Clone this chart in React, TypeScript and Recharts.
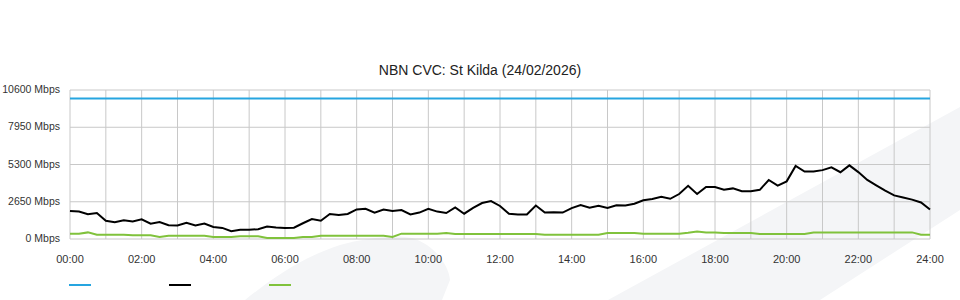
import React from "react";
import { LineChart, Line, XAxis, YAxis, CartesianGrid } from "recharts";

// 15-minute samples, 00:00 .. 24:00 (97 points), values in Mbps
const capacityMbps = 10000;

const trafficMbps = [
  2000, 1950, 1760, 1850, 1300, 1200, 1330, 1250, 1400, 1090, 1200, 980, 960, 1150, 960, 1100,
  850, 790, 560, 660, 660, 700, 880, 810, 780, 800, 1120, 1420, 1300, 1780, 1700, 1780,
  2100, 2150, 1880, 2100, 2000, 2060, 1750, 1880, 2150, 1950, 1850, 2250, 1800, 2220, 2560, 2700,
  2350, 1800, 1750, 1750, 2380, 1880, 1900, 1880, 2200, 2420, 2220, 2370, 2200, 2400, 2380, 2510,
  2750, 2850, 3000, 2860, 3200, 3780, 3200, 3700, 3700, 3500, 3600, 3400, 3390, 3500, 4200, 3800,
  4100, 5200, 4800, 4800, 4900, 5100, 4750, 5240, 4760, 4200, 3820, 3440, 3100, 2950, 2800, 2600,
  2100,
];

const otherMbps = [
  380, 380, 470, 300, 300, 300, 300, 260, 260, 260, 140, 235, 235, 235, 235, 235,
  140, 140, 140, 190, 190, 190, 70, 70, 70, 70, 140, 140, 235, 235, 235, 235,
  235, 235, 235, 235, 140, 380, 380, 380, 380, 380, 420, 355, 355, 355, 355, 355,
  355, 355, 355, 355, 355, 300, 300, 300, 300, 300, 300, 300, 430, 430, 430, 430,
  377, 377, 377, 377, 377, 450, 540, 470, 470, 430, 430, 430, 430, 355, 355, 355,
  355, 355, 355, 470, 470, 470, 470, 470, 470, 470, 470, 470, 470, 470, 470, 300,
  300,
];

const xTickHours = [0, 2, 4, 6, 8, 10, 12, 14, 16, 18, 20, 22, 24];
const xTickLabels = ["00:00", "02:00", "04:00", "06:00", "08:00", "10:00", "12:00", "14:00", "16:00", "18:00", "20:00", "22:00", "24:00"];
const gridHours = [0, 1, 2, 3, 4, 5, 6, 7, 8, 9, 10, 11, 12, 13, 14, 15, 16, 17, 18, 19, 20, 21, 22, 23, 24];
const yTicks = [0, 2650, 5300, 7950, 10600];
const yTickLabels = ["0 Mbps", "2650 Mbps", "5300 Mbps", "7950 Mbps", "10600 Mbps"];

const title = "NBN CVC: St Kilda (24/02/2026)";

const BLUE = "#26a5e0";
const BLACK = "#000000";
const GREEN = "#80c23c";
const FONT = "'Liberation Sans', Arial, Helvetica, sans-serif";

const data = trafficMbps.map((v, i) => ({
  t: i / 4,
  capacity: capacityMbps,
  traffic: v,
  other: otherMbps[i],
}));

const fmtX = (v: number) => {
  const idx = xTickHours.indexOf(v);
  return idx >= 0 ? xTickLabels[idx] : "";
};

const YTick = (props: any) => {
  const { y, payload } = props;
  const idx = yTicks.indexOf(payload.value);
  return (
    <text x={60} y={y} dy="0.3em" textAnchor="end" fontSize={10.5} fill="#333" fontFamily={FONT}>
      {idx >= 0 ? yTickLabels[idx] : ""}
    </text>
  );
};

export default function App() {
  return (
    <div style={{ position: "absolute", left: 0, top: 0, width: 960, height: 300, background: "#fff", overflow: "hidden", fontFamily: FONT }}>
      <svg width={960} height={300} style={{ position: "absolute", left: 0, top: 0 }}>
        <path
          d="M 245 300 C 270 280, 300 258, 340 245 C 365 238, 395 234, 412 238 C 432 244, 448 262, 450 280 L 442 300 Z"
          fill="#f4f5f7"
        />
        <path d="M 608 300 L 960 107 L 960 210 L 820 300 Z" fill="#f4f5f7" />
      </svg>
      <div
        style={{
          position: "absolute",
          left: 0,
          top: 62,
          width: 960,
          textAlign: "center",
          fontSize: 14,
          lineHeight: "16px",
          color: "#222",
        }}
      >
        {title}
      </div>
      <div style={{ position: "absolute", left: 0, top: 0 }}>
        <LineChart width={960} height={300} data={data} margin={{ top: 90, right: 30, left: 0, bottom: 0 }}>
          <CartesianGrid stroke="#c8c8c8" strokeWidth={1} verticalValues={gridHours} horizontalValues={yTicks} />
          <XAxis
            dataKey="t"
            type="number"
            domain={[0, 24]}
            ticks={xTickHours}
            tickFormatter={fmtX}
            axisLine={false}
            tickLine={false}
            tickMargin={10}
            height={61}
            interval={0}
            tick={{ fontSize: 11, fill: "#333", fontFamily: FONT }}
          />
          <YAxis
            type="number"
            domain={[0, 10600]}
            ticks={yTicks}
            axisLine={false}
            tickLine={false}
            width={70}
            interval={0}
            tick={<YTick />}
          />
          <Line type="linear" dataKey="capacity" stroke={BLUE} strokeWidth={2} dot={false} isAnimationActive={false} />
          <Line type="linear" dataKey="other" stroke={GREEN} strokeWidth={2} dot={false} isAnimationActive={false} />
          <Line type="linear" dataKey="traffic" stroke={BLACK} strokeWidth={2} dot={false} isAnimationActive={false} />
        </LineChart>
      </div>
      <div style={{ position: "absolute", left: 69, top: 284, width: 22, height: 2, background: BLUE }} />
      <div style={{ position: "absolute", left: 169, top: 284, width: 22, height: 2, background: BLACK }} />
      <div style={{ position: "absolute", left: 269, top: 284, width: 22, height: 2, background: GREEN }} />
    </div>
  );
}
